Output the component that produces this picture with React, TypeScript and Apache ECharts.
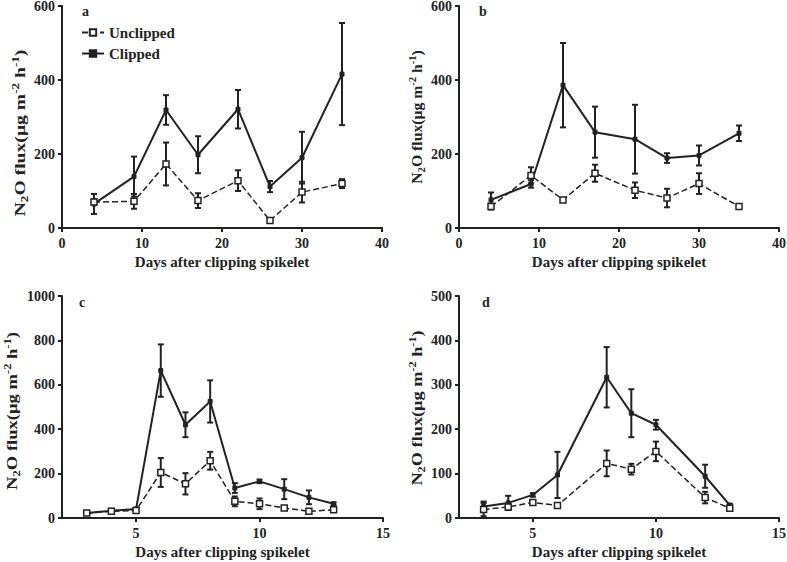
import React, { useEffect, useRef } from "react";
import * as echarts from "echarts";

const daysAB = [4, 9, 13, 17, 22, 26, 30, 35];
const aUnclipped = [70, 72, 173, 74, 128, 20, 97, 120];
const aUnclippedErr = [8, 20, 58, 20, 28, 5, 28, 12];
const aClipped = [65, 139, 319, 198, 321, 112, 190, 416];
const aClippedErr = [27, 54, 40, 50, 52, 15, 70, 138];

const bUnclipped = [58, 142, 76, 148, 102, 81, 120, 58];
const bUnclippedErr = [8, 22, 5, 23, 21, 25, 28, 6];
const bClipped = [76, 119, 386, 259, 240, 189, 196, 256];
const bClippedErr = [20, 10, 114, 69, 93, 13, 27, 21];

const daysC = [3, 4, 5, 6, 7, 8, 9, 10, 11, 12, 13];
const cUnclipped = [22, 30, 34, 205, 154, 258, 75, 64, 45, 30, 37];
const cUnclippedErr = [5, 5, 5, 65, 48, 40, 22, 24, 5, 5, 5];
const cClipped = [22, 33, 40, 664, 420, 525, 135, 165, 130, 93, 64];
const cClippedErr = [5, 8, 6, 118, 56, 95, 22, 8, 45, 31, 6];

const daysD = [3, 4, 5, 6, 8, 9, 10, 12, 13];
const dUnclipped = [19, 25, 35, 28, 123, 110, 150, 46, 22];
const dUnclippedErr = [15, 5, 3, 3, 29, 12, 22, 13, 3];
const dClipped = [26, 34, 52, 97, 317, 236, 210, 94, 29];
const dClippedErr = [11, 16, 4, 52, 68, 54, 11, 26, 3];

const panelLabels = ["a", "b", "c", "d"];
const xTicksCD = [5, 10, 15];
const yTitleRich = "{n|N}{s|2}{n|O flux(μg m}{p|-2}{n| h}{p|-1}{n|)}";
const xTitle = "Days after clipping spikelet";

const INK = "#222";
const FONT = "Liberation Serif";

const pairs = (xs: number[], ys: number[]) => xs.map((x, i) => [x, ys[i]]);
const errs = (xs: number[], ys: number[], es: number[]) =>
  xs.map((x, i) => [x, ys[i] - es[i], ys[i] + es[i]]);

export default function App() {
  const ref = useRef<HTMLDivElement>(null);
  useEffect(() => {
    if (!ref.current) return;
    document.body.style.margin = "0";
    const chart = echarts.init(ref.current, null, { renderer: "svg" });

    const grids = [
      { left: 62, top: 6, width: 320, height: 222 },
      { left: 459, top: 6, width: 320, height: 222 },
      { left: 62, top: 296, width: 321, height: 222 },
      { left: 459, top: 296, width: 320, height: 222 },
    ].map((g) => ({ ...g, containLabel: false, outerBoundsMode: "none" }));

    const fmt = (v: number) => String(v);

    const axisCommon = {
      axisLine: { show: true, onZero: false, lineStyle: { color: INK, width: 2 } },
      axisTick: { show: true, inside: false, length: 4, lineStyle: { color: INK, width: 2 } },
      splitLine: { show: false },
      axisLabel: { color: INK, fontFamily: FONT, fontWeight: "bold", fontSize: 14, formatter: fmt },
    };

    const xAxes = grids.map((_, i) => {
      const base: any = {
        ...axisCommon,
        type: "value",
        gridIndex: i,
        name: xTitle,
        nameLocation: "middle",
        nameGap: 26,
        nameTextStyle: { color: INK, fontFamily: FONT, fontWeight: "bold", fontSize: 15 },
      };
      if (i < 2) {
        return { ...base, min: 0, max: 40, interval: 10, axisLabel: { ...axisCommon.axisLabel, margin: 8 } };
      }
      return {
        ...base,
        min: 2,
        max: 15,
        axisLabel: { ...axisCommon.axisLabel, margin: 8, customValues: xTicksCD },
        axisTick: { ...axisCommon.axisTick, customValues: xTicksCD },
      };
    });

    const yRanges = [
      { max: 600, interval: 200 },
      { max: 600, interval: 200 },
      { max: 1000, interval: 200 },
      { max: 500, interval: 100 },
    ];
    const yAxes = grids.map((_, i) => ({
      ...axisCommon,
      type: "value",
      gridIndex: i,
      min: 0,
      max: yRanges[i].max,
      interval: yRanges[i].interval,
      axisLabel: { ...axisCommon.axisLabel, margin: 7 },
    }));

    const panels = [
      { x: daysAB, u: aUnclipped, ue: aUnclippedErr, c: aClipped, ce: aClippedErr },
      { x: daysAB, u: bUnclipped, ue: bUnclippedErr, c: bClipped, ce: bClippedErr },
      { x: daysC, u: cUnclipped, ue: cUnclippedErr, c: cClipped, ce: cClippedErr },
      { x: daysD, u: dUnclipped, ue: dUnclippedErr, c: dClipped, ce: dClippedErr },
    ];

    const errRender = (params: any, api: any) => {
      const x = api.value(0);
      const lo = api.value(1);
      const hi = api.value(2);
      const p1 = api.coord([x, hi]);
      const p2 = api.coord([x, lo]);
      const w = 3;
      const style = { stroke: INK, lineWidth: 2 };
      return {
        type: "group",
        children: [
          { type: "line", shape: { x1: p1[0], y1: p1[1], x2: p2[0], y2: p2[1] }, style },
          { type: "line", shape: { x1: p1[0] - w, y1: p1[1], x2: p1[0] + w, y2: p1[1] }, style },
          { type: "line", shape: { x1: p2[0] - w, y1: p2[1], x2: p2[0] + w, y2: p2[1] }, style },
        ],
      };
    };

    const series: any[] = [];
    panels.forEach((p, i) => {
      series.push({
        name: "Unclipped",
        type: "line",
        xAxisIndex: i,
        yAxisIndex: i,
        data: pairs(p.x, p.u),
        symbol: "rect",
        symbolSize: 6,
        itemStyle: { color: "#fff", borderColor: INK, borderWidth: 1.5 },
        lineStyle: { color: INK, width: 1.5, type: [6, 3] },
        z: 3,
      });
      series.push({
        name: "Clipped",
        type: "line",
        xAxisIndex: i,
        yAxisIndex: i,
        data: pairs(p.x, p.c),
        symbol: "rect",
        symbolSize: 4,
        itemStyle: { color: INK, borderColor: INK, borderWidth: 1 },
        lineStyle: { color: INK, width: 2, type: "solid" },
        z: 2,
      });
      series.push({
        name: "err-u-" + i,
        type: "custom",
        xAxisIndex: i,
        yAxisIndex: i,
        data: errs(p.x, p.u, p.ue),
        renderItem: errRender,
        encode: { x: 0, y: [1, 2] },
        clip: false,
        z: 1,
      });
      series.push({
        name: "err-c-" + i,
        type: "custom",
        xAxisIndex: i,
        yAxisIndex: i,
        data: errs(p.x, p.c, p.ce),
        renderItem: errRender,
        encode: { x: 0, y: [1, 2] },
        clip: false,
        z: 1,
      });
    });

    const labelPos = [
      { x: 82, y: 4 },
      { x: 479, y: 4 },
      { x: 79, y: 295 },
      { x: 482, y: 295 },
    ];

    // y-axis titles: centre position and stretch along the reading direction
    const yTitlePos = [
      { x: 20, y: 133, sx: 1.31 },
      { x: 417, y: 117, sx: 1.05 },
      { x: 12, y: 411, sx: 1.24 },
      { x: 417, y: 408, sx: 1.22 },
    ];
    const rich = {
      n: { fontFamily: FONT, fontWeight: "bold", fontSize: 15, fill: INK, lineHeight: 19, verticalAlign: "middle" },
      s: { fontFamily: FONT, fontWeight: "bold", fontSize: 10, fill: INK, lineHeight: 19, verticalAlign: "bottom" },
      p: { fontFamily: FONT, fontWeight: "bold", fontSize: 10, fill: INK, lineHeight: 19, verticalAlign: "top" },
    };

    const graphic: any[] = [
      ...panelLabels.map((t, i) => ({
        type: "text",
        x: labelPos[i].x,
        y: labelPos[i].y,
        style: { text: t, fill: INK, font: `bold 14px "${FONT}"` },
      })),
      ...yTitlePos.map((p) => ({
        type: "text",
        x: p.x,
        y: p.y,
        rotation: Math.PI / 2,
        scaleX: p.sx,
        scaleY: 1,
        style: {
          text: yTitleRich,
          rich,
          align: "center",
          verticalAlign: "middle",
          fill: INK,
          font: `bold 15px "${FONT}"`,
        },
      })),
    ];

    chart.setOption({
      animation: false,
      backgroundColor: "#fff",
      grid: grids,
      xAxis: xAxes,
      yAxis: yAxes,
      legend: {
        show: true,
        data: ["Unclipped", "Clipped"],
        orient: "vertical",
        left: 76,
        top: 20,
        itemWidth: 22,
        itemHeight: 8,
        itemGap: 6,
        textStyle: { color: INK, fontFamily: FONT, fontWeight: "bold", fontSize: 15 },
      },
      tooltip: { show: false },
      graphic,
      series,
    });

    return () => chart.dispose();
  }, []);

  return <div ref={ref} style={{ width: 787, height: 562, background: "#fff" }} />;
}
